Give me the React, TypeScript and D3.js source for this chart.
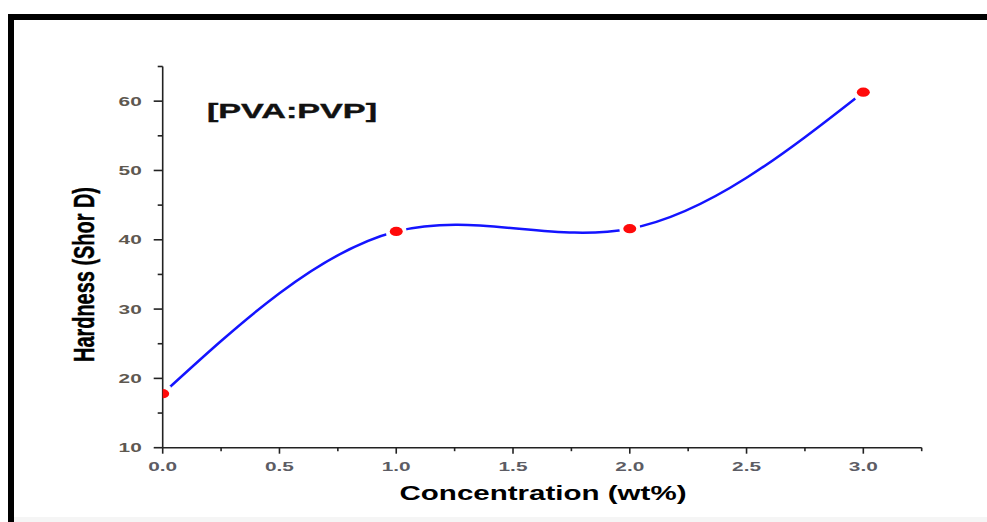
import React from "react";
import * as d3 from "d3";

const concentrations = [0, 1, 2, 3];
const hardness = [17.8, 41.2, 41.6, 61.3];

const xMajorTicks = [0, 0.5, 1, 1.5, 2, 2.5, 3];
const xTickLabels = ["0.0", "0.5", "1.0", "1.5", "2.0", "2.5", "3.0"];
const xMinorTicks = [0.25, 0.75, 1.25, 1.75, 2.25, 2.75, 3.25];
const yMajorTicks = [10, 20, 30, 40, 50, 60];
const yTickLabels = ["10", "20", "30", "40", "50", "60"];
const yMinorTicks = [15, 25, 35, 45, 55, 65];

const titleText = "[PVA:PVP]";
const xLabel = "Concentration (wt%)";
const yLabel = "Hardness (Shor D)";

const W = 987;
const H = 522;

export default function App() {
  const x = d3.scaleLinear().domain([0, 3.25]).range([162.7, 921.7]);
  const y = d3.scaleLinear().domain([10, 65]).range([447.7, 66.5]);
  const x0 = x(0);
  const y0 = y(10);

  const pts = concentrations.map((c, i) => [x(c), y(hardness[i])] as [number, number]);
  const lineGen = d3.line().curve(d3.curveNatural);
  const path = lineGen(pts) || "";

  const font = "Arial, 'Liberation Sans', sans-serif";
  const sx = 1.6;

  return (
    <svg
      width={W}
      height={H}
      style={{ position: "absolute", left: 0, top: 0, background: "#fff" }}
    >
      <defs>
        <mask id="gapMask" maskUnits="userSpaceOnUse" x={0} y={0} width={W} height={H}>
          <rect x={0} y={0} width={W} height={H} fill="white" />
          {pts.map((p, i) => (
            <circle key={i} cx={p[0]} cy={p[1]} r={10.5} fill="black" />
          ))}
        </mask>
        <clipPath id="plotClip">
          <rect x={x0} y={y(65) - 10} width={x(3.25) - x0 + 10} height={y0 - y(65) + 10} />
        </clipPath>
      </defs>

      {/* frame */}
      <rect x={0} y={0} width={W} height={H} fill="#fff" />
      <rect x={8} y={14} width={W - 8} height={6} fill="#000" />
      <rect x={8} y={14} width={6} height={H - 14} fill="#000" />
      <rect x={14} y={517} width={W - 14} height={5} fill="#f5f5f5" />

      {/* axes */}
      <line x1={x0} y1={y(65)} x2={x0} y2={y0} stroke="#222" strokeWidth={1.6} />
      <line x1={x0} y1={y0} x2={x(3.25)} y2={y0} stroke="#222" strokeWidth={1.6} />

      {xMajorTicks.map((t, i) => (
        <line key={"xm" + i} x1={x(t)} x2={x(t)} y1={y0} y2={y0 + 6} stroke="#222" strokeWidth={1.6} />
      ))}
      {xMinorTicks.map((t, i) => (
        <line key={"xn" + i} x1={x(t)} x2={x(t)} y1={y0} y2={y0 + 3.5} stroke="#222" strokeWidth={1.6} />
      ))}
      {yMajorTicks.map((t, i) => (
        <line key={"ym" + i} x1={x0 - 9} x2={x0} y1={y(t)} y2={y(t)} stroke="#222" strokeWidth={1.6} />
      ))}
      {yMinorTicks.map((t, i) => (
        <line key={"yn" + i} x1={x0 - 5} x2={x0} y1={y(t)} y2={y(t)} stroke="#222" strokeWidth={1.6} />
      ))}

      {xMajorTicks.map((t, i) => (
        <text
          key={"xl" + i}
          transform={`translate(${x(t)},${y0 + 23.5}) scale(${sx},1)`}
          textAnchor="middle"
          fontFamily={font}
          fontWeight="bold"
          fontSize={13}
          fill="#5c5c64"
        >
          {xTickLabels[i]}
        </text>
      ))}
      {yMajorTicks.map((t, i) => (
        <text
          key={"yl" + i}
          transform={`translate(${x0 - 21},${y(t) + 4.5}) scale(${sx},1)`}
          textAnchor="end"
          fontFamily={font}
          fontWeight="bold"
          fontSize={13}
          fill="#5e5850"
        >
          {yTickLabels[i]}
        </text>
      ))}

      {/* curve */}
      <path d={path} fill="none" stroke="#1414ff" strokeWidth={2.5} mask="url(#gapMask)" />

      {/* markers */}
      <g clipPath="url(#plotClip)">
        {pts.map((p, i) => (
          <ellipse key={i} cx={p[0]} cy={p[1]} rx={6.5} ry={4.6} fill="#ff0a0a" />
        ))}
      </g>

      {/* title */}
      <text
        x={207}
        y={118}
        fontFamily={font}
        fontWeight="bold"
        fontSize={21}
        textLength={170}
        lengthAdjust="spacingAndGlyphs"
        stroke="#111"
        strokeWidth={0.4}
        fill="#111"
      >
        {titleText}
      </text>

      {/* axis labels */}
      <text
        x={543}
        y={500}
        textAnchor="middle"
        fontFamily={font}
        fontWeight="bold"
        fontSize={20}
        textLength={287}
        lengthAdjust="spacingAndGlyphs"
        fill="#000"
      >
        {xLabel}
      </text>
      <text
        transform={`translate(94,274.5) scale(${sx},1) rotate(-90)`}
        textAnchor="middle"
        fontFamily={font}
        fontWeight="bold"
        fontSize={19}
        textLength={175}
        lengthAdjust="spacingAndGlyphs"
        stroke="#000"
        strokeWidth={0.3}
        fill="#000"
      >
        {yLabel}
      </text>
    </svg>
  );
}
